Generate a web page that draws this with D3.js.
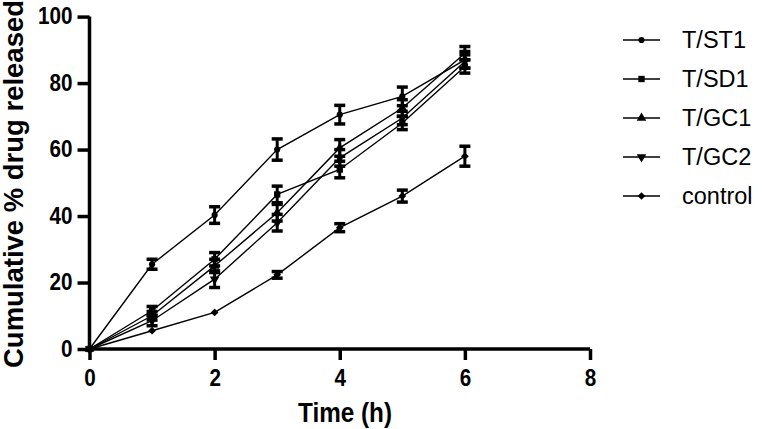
<!DOCTYPE html>
<html><head><meta charset="utf-8">
<script src="https://cdn.jsdelivr.net/npm/d3@7"></script>
<style>body{margin:0;background:#fff}svg{display:block}text{font-family:"Liberation Sans",Arial,sans-serif}</style>
</head><body>
<svg id="c" width="762" height="429"></svg>
<script>
const times = [0, 1, 2, 3, 4, 5, 6];
const seriesNames = ["T/ST1", "T/SD1", "T/GC1", "T/GC2", "control"];
const st1 = [0, 25.5, 40.3, 60, 70.5, 76, 87];
const st1Err = [0, 1.5, 2.5, 3.2, 2.8, 2.8, 2.5];
const sd1 = [0, 11.5, 27, 46.5, 54, 68, 85];
const sd1Err = [0, 1.3, 2, 2.5, 2.5, 2, 2];
const gc1 = [0, 10, 25, 41, 60.5, 72.5, 89];
const gc1Err = [0, 1.3, 2, 2.5, 2.5, 2.5, 2];
const gc2 = [0, 8.5, 21, 38, 57.5, 69.5, 86.5];
const gc2Err = [0, 1.5, 2.5, 2.5, 2.5, 2, 2];
const ctrl = [0, 5.5, 11, 22.3, 36.5, 46, 58];
const ctrlErr = [0, 0, 0, 1, 1.2, 1.8, 3];
const xTicks = [0, 2, 4, 6, 8];
const yTicks = [0, 20, 40, 60, 80, 100];

const values = [st1, sd1, gc1, gc2, ctrl];
const errs = [st1Err, sd1Err, gc1Err, gc2Err, ctrlErr];
const symbols = [
  {type: d3.symbolCircle, size: 30, rot: 0},
  {type: d3.symbolSquare, size: 40, rot: 0},
  {type: d3.symbolTriangle, size: 40, rot: 0},
  {type: d3.symbolTriangle, size: 40, rot: 180},
  {type: d3.symbolSquare, size: 30, rot: 45}
];

const svg = d3.select("#c");
const x = d3.scaleLinear().domain([0, 8]).range([89.5, 590]);
const y = d3.scaleLinear().domain([0, 100]).range([349, 16.6]);

// data lines
const line = d3.line().x((d, i) => x(times[i])).y(d => y(d));
values.forEach((vals) => {
  svg.append("path").datum(vals).attr("d", line)
    .attr("fill", "none").attr("stroke", "#000").attr("stroke-width", 1.4);
});
// error bars
values.forEach((vals, s) => {
  const g = svg.append("g");
  vals.forEach((v, i) => {
    const e = errs[s][i];
    if (!e) return;
    const cx = x(times[i]);
    g.append("line").attr("x1", cx).attr("x2", cx).attr("y1", y(v - e)).attr("y2", y(v + e))
      .attr("stroke", "#000").attr("stroke-width", 3);
    [v - e, v + e].forEach(b => {
      g.append("line").attr("x1", cx - 5.5).attr("x2", cx + 5.5).attr("y1", y(b)).attr("y2", y(b))
        .attr("stroke", "#000").attr("stroke-width", 3.5);
    });
  });
});
// markers
values.forEach((vals, s) => {
  const sym = d3.symbol().type(symbols[s].type).size(symbols[s].size);
  svg.append("g").selectAll("path").data(vals).join("path")
    .attr("d", sym)
    .attr("transform", (d, i) => `translate(${x(times[i])},${y(d)}) rotate(${symbols[s].rot})`)
    .attr("fill", "#000");
});

// axes
const xAxis = svg.append("g").attr("transform", "translate(0,349)")
  .call(d3.axisBottom(x).tickValues(xTicks).tickSize(11).tickPadding(10).tickFormat(d3.format("d")));
const yAxis = svg.append("g").attr("transform", "translate(89.5,0)")
  .call(d3.axisLeft(y).tickValues(yTicks).tickSize(12).tickPadding(5).tickFormat(d3.format("d")));
[xAxis, yAxis].forEach(a => {
  a.select(".domain").attr("stroke", "#000").attr("stroke-width", 3.5);
  a.selectAll(".tick line").attr("stroke", "#000").attr("stroke-width", 3.5);
  a.selectAll(".tick text").attr("fill", "#000").style("font-size", "23px").style("font-weight", "bold")
    .style("font-family", '"Liberation Sans", Arial, sans-serif')
    .attr("textLength", d => String(d).length * 11.5).attr("lengthAdjust", "spacingAndGlyphs");
});
xAxis.select(".domain").attr("d", `M${x(0)},0H${x(8)}`);
yAxis.select(".domain").attr("d", `M0,${y(0)}V${y(100)}`);

// axis titles
svg.append("text").attr("x", 345).attr("y", 421.5).attr("text-anchor", "middle")
  .style("font-size", "27px").style("font-weight", "bold")
  .attr("textLength", 94).attr("lengthAdjust", "spacingAndGlyphs").text("Time (h)");
svg.append("text").attr("transform", `translate(23,184) rotate(-90)`)
  .attr("text-anchor", "middle").style("font-size", "27px").style("font-weight", "bold")
  .attr("textLength", 368).attr("lengthAdjust", "spacingAndGlyphs")
  .text("Cumulative % drug released");

// legend
const legY = [40, 79, 118, 157, 196];
seriesNames.forEach((name, s) => {
  const g = svg.append("g").attr("transform", `translate(0,${legY[s]})`);
  g.append("line").attr("x1", 623).attr("x2", 660).attr("y1", 0).attr("y2", 0)
    .attr("stroke", "#000").attr("stroke-width", 1.6);
  g.append("path").attr("d", d3.symbol().type(symbols[s].type).size(symbols[s].size))
    .attr("transform", `translate(641.5,0) rotate(${symbols[s].rot})`).attr("fill", "#000");
  g.append("text").attr("x", 682).attr("y", 8.3).style("font-size", "23.5px").text(name);
});
</script>
</body></html>
